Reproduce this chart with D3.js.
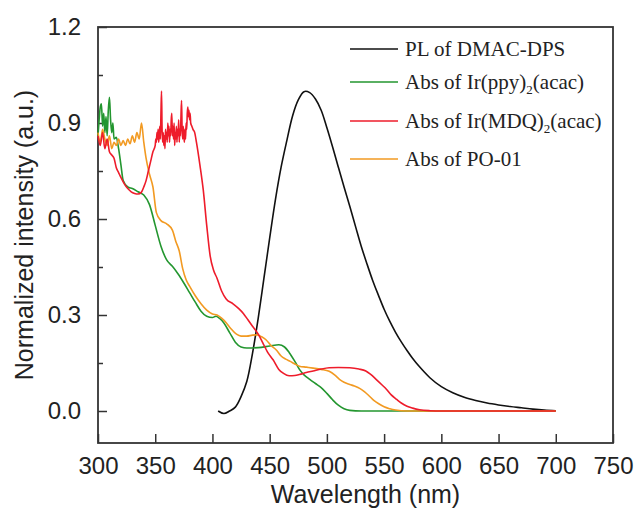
<!DOCTYPE html>
<html>
<head>
<meta charset="utf-8">
<script src="https://cdn.jsdelivr.net/npm/d3@7"></script>
<style>
  body { margin: 0; background: #fff; }
  .tick text { font-family: "Liberation Sans", Arial, sans-serif; }
</style>
</head>
<body>
<div id="chart"></div>
<script>
//Data (wavelength nm, normalized intensity)
var plWave = [405, 410, 415, 420, 425, 430, 435, 440, 445, 450, 455, 460, 465, 470, 475, 480, 485, 490, 495, 500,
    505, 510, 515, 520, 525, 530, 535, 540, 545, 550, 555, 560, 565, 570, 575, 580, 590, 600, 610, 620,
    630, 640, 650, 660, 670, 680, 690, 700];
var plValue = [0.0, -0.008, 0.0, 0.012, 0.045, 0.092, 0.18, 0.29, 0.415, 0.54, 0.66, 0.762, 0.845, 0.922, 0.972, 0.998, 0.995, 0.975, 0.94, 0.885,
    0.825, 0.762, 0.70, 0.64, 0.577, 0.515, 0.460, 0.408, 0.362, 0.318, 0.280, 0.246, 0.216, 0.189, 0.164, 0.142, 0.104, 0.076, 0.057, 0.043,
    0.033, 0.025, 0.019, 0.014, 0.010, 0.006, 0.003, 0.001];

var ppyWave = [300, 301, 302, 303, 304, 305, 306, 307, 308, 309, 310, 311, 312, 313, 314, 316, 318, 320, 322, 326,
    330, 335, 340, 345, 350, 355, 360, 365, 370, 375, 380, 385, 390, 395, 400, 403, 406, 410, 415, 420,
    425, 430, 440, 450, 458, 463, 467, 472, 476, 480, 485, 490, 495, 500, 505, 510, 515, 520, 530, 600, 700];
var ppyValue = [0.86, 0.91, 0.95, 0.96, 0.89, 0.93, 0.87, 0.92, 0.86, 0.94, 0.98, 0.91, 0.87, 0.90, 0.85, 0.855, 0.82, 0.77, 0.72, 0.70,
    0.695, 0.685, 0.675, 0.645, 0.58, 0.515, 0.472, 0.452, 0.428, 0.40, 0.37, 0.34, 0.312, 0.296, 0.292, 0.296, 0.29, 0.275, 0.245, 0.215,
    0.20, 0.197, 0.198, 0.203, 0.207, 0.20, 0.183, 0.155, 0.13, 0.113, 0.099, 0.086, 0.073, 0.055, 0.035, 0.018, 0.007, 0.002, 0.0, 0.0, 0.0];

var mdqWave = [300, 302, 304, 306, 308, 310, 312, 314, 316, 318, 320, 323, 326, 329, 332, 335, 338, 340, 342, 344,
    346, 348, 350, 350.5, 351, 351.5, 352, 352.5, 353, 353.5, 354, 354.5, 355, 355.5, 356, 356.5, 357, 357.5, 358, 358.5,
    359, 359.5, 360, 360.5, 361, 361.5, 362, 362.5, 363, 363.5, 364, 364.5, 365, 365.5, 366, 366.5, 367, 367.5, 368, 368.5,
    369, 369.5, 370, 370.5, 371, 371.5, 372, 372.5, 373, 373.5, 374, 374.5, 375, 375.5, 376, 376.5, 377, 377.5, 378, 378.5,
    379, 379.5, 380, 380.5, 381, 382, 383, 384.5, 386, 389, 392, 395, 398, 401, 404,
    408, 412, 418, 423, 427, 431, 435, 440, 444, 448, 453, 458, 462, 467, 472, 476, 482, 488, 495, 502,
    510, 520, 528, 534, 538, 543, 548, 552, 556, 561, 565, 570, 575, 581, 590, 600, 700];
var mdqValue = [0.86, 0.83, 0.87, 0.82, 0.85, 0.81, 0.80, 0.79, 0.76, 0.745, 0.73, 0.71, 0.695, 0.685, 0.68, 0.678, 0.684, 0.70, 0.72, 0.75,
    0.78, 0.81, 0.83, 0.85, 0.84, 0.87, 0.85, 0.88, 0.84, 0.86, 0.89, 0.85, 0.93, 1.0, 0.88, 0.84, 0.87, 0.83, 0.86, 0.82,
    0.88, 0.85, 0.87, 0.84, 0.90, 0.86, 0.89, 0.84, 0.88, 0.86, 0.91, 0.93, 0.86, 0.89, 0.85, 0.90, 0.83, 0.87, 0.85, 0.89,
    0.84, 0.88, 0.86, 0.91, 0.84, 0.88, 0.86, 0.92, 0.97, 0.88, 0.85, 0.89, 0.86, 0.84, 0.88, 0.85, 0.90, 0.88, 0.93, 0.95,
    0.92, 0.94, 0.91, 0.93, 0.90, 0.89, 0.88, 0.87, 0.84, 0.77, 0.69, 0.58, 0.485, 0.44, 0.415,
    0.375, 0.35, 0.335, 0.32, 0.305, 0.285, 0.265, 0.24, 0.213, 0.185, 0.16, 0.13, 0.118, 0.11, 0.111, 0.114, 0.12, 0.125, 0.131, 0.135,
    0.136, 0.135, 0.131, 0.125, 0.115, 0.099, 0.082, 0.068, 0.051, 0.036, 0.025, 0.015, 0.009, 0.004, 0.001, 0.0, 0.0];

var poWave = [300, 302, 304, 306, 308, 310, 312, 314, 316, 318, 320, 322, 324, 326, 328, 330, 332, 334, 336, 338,
    340, 342, 345, 348, 351, 355, 360, 365, 368, 371, 374, 377, 380, 385, 390, 395, 400, 404, 408, 412,
    416, 421, 425, 430, 435, 439, 443, 447, 451, 456, 460, 464, 468, 472, 476, 482, 488, 495, 502, 507,
    511, 515, 520, 524, 529, 533, 537, 541, 546, 550, 555, 560, 570, 700];
var poValue = [0.87, 0.84, 0.88, 0.85, 0.83, 0.86, 0.82, 0.84, 0.83, 0.85, 0.83, 0.845, 0.83, 0.85, 0.835, 0.86, 0.84, 0.87, 0.85, 0.90,
    0.84, 0.79, 0.74, 0.70, 0.62, 0.595, 0.585, 0.565, 0.53, 0.50, 0.445, 0.41, 0.39, 0.36, 0.335, 0.315, 0.303, 0.30, 0.29, 0.276,
    0.258, 0.24, 0.234, 0.234, 0.237, 0.238, 0.232, 0.222, 0.205, 0.19, 0.172, 0.162, 0.155, 0.147, 0.14, 0.137, 0.134, 0.13, 0.124, 0.112,
    0.099, 0.09, 0.083, 0.078, 0.07, 0.06, 0.047, 0.033, 0.021, 0.013, 0.007, 0.003, 0.0, 0.0];

var xTicks = [300, 350, 400, 450, 500, 550, 600, 650, 700, 750];
var yTicks = [0.0, 0.3, 0.6, 0.9, 1.2];
var yMinorTicks = [0.15, 0.45, 0.75, 1.05];

//Series in legend order
var seriesNames = ["PL of DMAC-DPS", "Abs of Ir(ppy)", "Abs of Ir(MDQ)", "Abs of PO-01"];
var seriesColors = ["#111111", "#23962f", "#ee1c2b", "#f29a22"];

//Set up chart
var svgWidth = 639;
var svgHeight = 513;

var margin = {
    top: 27,
    right: 26,
    bottom: 70,
    left: 98
};

var width = svgWidth - margin.left - margin.right;
var height = svgHeight - margin.top - margin.bottom;

var svg = d3.select("#chart").append("svg")
    .attr("width", svgWidth)
    .attr("height", svgHeight);

var chartGroup = svg.append("g")
    .attr("transform", `translate(${margin.left}, ${margin.top})`);

//Scales
var xLinearScale = d3.scaleLinear()
    .domain([300, 750])
    .range([0, width]);

var yLinearScale = d3.scaleLinear()
    .domain([-0.1, 1.2])
    .range([height, 0]);

//Axes, ticks pointing inward
var bottomAxis = d3.axisBottom(xLinearScale)
    .tickValues(xTicks)
    .tickSize(-9)
    .tickPadding(14)
    .tickFormat(d3.format("d"));

var leftAxis = d3.axisLeft(yLinearScale)
    .tickValues(yTicks)
    .tickSize(-9)
    .tickPadding(17)
    .tickFormat(d3.format(".1f"));

var xAxis = chartGroup.append("g")
    .attr("transform", `translate(0, ${height})`)
    .call(bottomAxis);

var yAxis = chartGroup.append("g")
    .call(leftAxis);

var yMinor = chartGroup.append("g")
    .call(d3.axisLeft(yLinearScale).tickValues(yMinorTicks).tickSize(-5).tickFormat(""));

[xAxis, yAxis, yMinor].forEach(function(g) {
    g.select(".domain").remove();
    g.selectAll(".tick line").attr("stroke", "#333").attr("stroke-width", 1.5);
    g.selectAll(".tick text")
        .attr("font-size", "24px")
        .attr("fill", "#222");
});

//Plot frame
chartGroup.append("rect")
    .attr("width", width)
    .attr("height", height)
    .attr("fill", "none")
    .attr("stroke", "#333")
    .attr("stroke-width", 1.8);

//Lines: smooth spline for the PL band, monotone for the noisy absorption data
var smoothLine = d3.line()
    .x(d => xLinearScale(d[0]))
    .y(d => yLinearScale(d[1]))
    .curve(d3.curveCatmullRom.alpha(0.5));

var line = d3.line()
    .x(d => xLinearScale(d[0]))
    .y(d => yLinearScale(d[1]))
    .curve(d3.curveMonotoneX);

var series = [
    { wave: plWave, value: plValue, color: seriesColors[0], gen: smoothLine },
    { wave: ppyWave, value: ppyValue, color: seriesColors[1], gen: line },
    { wave: poWave, value: poValue, color: seriesColors[3], gen: line },
    { wave: mdqWave, value: mdqValue, color: seriesColors[2], gen: line }
];

series.forEach(function(s) {
    chartGroup.append("path")
        .datum(s.wave.map((w, i) => [w, s.value[i]]))
        .attr("fill", "none")
        .attr("stroke", s.color)
        .attr("stroke-width", 1.6)
        .attr("stroke-linejoin", "round")
        .attr("d", s.gen);
});

//Legend
var legendY = [49, 82, 121, 159];
var legendSub = [null, "2", "2", null];

var legend = svg.append("g");

seriesNames.forEach(function(name, i) {
    legend.append("line")
        .attr("x1", 350)
        .attr("x2", 398)
        .attr("y1", legendY[i])
        .attr("y2", legendY[i])
        .attr("stroke", seriesColors[i])
        .attr("stroke-width", 1.6);

    var label = legend.append("text")
        .attr("x", 405)
        .attr("y", legendY[i] + 7)
        .attr("font-family", "'Liberation Serif', 'Times New Roman', serif")
        .attr("font-size", "21px")
        .attr("fill", "#222");

    label.append("tspan").text(name);

    if (legendSub[i]) {
        label.append("tspan")
            .attr("dy", 5)
            .attr("font-size", "13px")
            .text(legendSub[i]);
        label.append("tspan")
            .attr("dy", -5)
            .text("(acac)");
    }
});

//Axis titles
svg.append("text")
    .attr("x", margin.left + width / 2 + 10)
    .attr("y", 503)
    .attr("text-anchor", "middle")
    .attr("font-family", "'Liberation Sans', Arial, sans-serif")
    .attr("font-size", "25px")
    .attr("fill", "#222")
    .text("Wavelength (nm)");

svg.append("text")
    .attr("transform", `translate(33, ${margin.top + height / 2}) rotate(-90)`)
    .attr("text-anchor", "middle")
    .attr("font-family", "'Liberation Sans', Arial, sans-serif")
    .attr("font-size", "25px")
    .attr("fill", "#222")
    .text("Normalized intensity (a.u.)");
</script>
</body>
</html>
